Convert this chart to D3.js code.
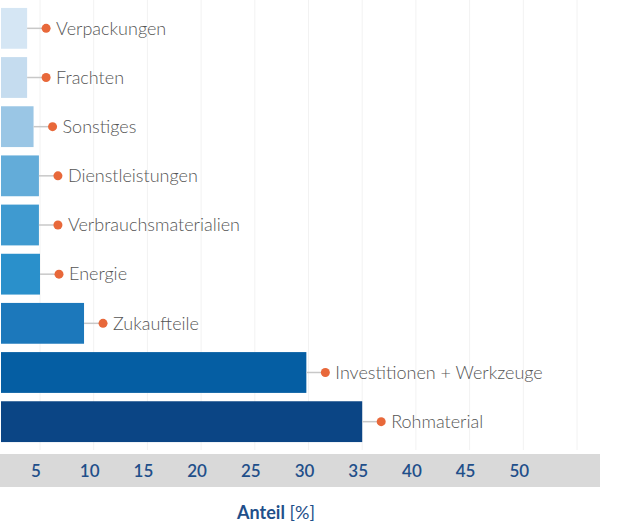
<!DOCTYPE html>
<html>
<head>
<meta charset="utf-8">
<script src="https://cdn.jsdelivr.net/npm/d3@7"></script>
<style>
  body { margin: 0; background: #fff; }
  svg { display: block; font-family: "Lato", "Open Sans", sans-serif; }
</style>
</head>
<body>
<svg width="641" height="524"></svg>
<script>
// categories, top to bottom
const categories = ['Verpackungen', 'Frachten', 'Sonstiges', 'Dienstleistungen',
    'Verbrauchsmaterialien', 'Energie', 'Zukaufteile', 'Investitionen + Werkzeuge', 'Rohmaterial'];
// share in percent
const values = [3.8, 3.8, 4.4, 4.9, 4.9, 5.0, 9.1, 29.8, 35.0];
const colors = ['#d5e6f4', '#c5dcef', '#9ac6e5', '#63acd9', '#3f9ad0', '#2a90cb', '#1c78bb', '#055ea3', '#0b4585'];
const ticks = [5, 10, 15, 20, 25, 30, 35, 40, 45, 50];
const gridValues = [5, 10, 15, 20, 25, 30, 35, 40, 45, 50, 55];

const svg = d3.select('svg');

const x = d3.scaleLinear().domain([0, 55]).range([-13.7, 577]);
const y = d3.scaleBand().domain(categories).range([4, 446]).paddingInner(0.17).paddingOuter(0.08);

// grid lines
svg.append('g')
    .selectAll('line')
    .data(gridValues)
    .enter()
    .append('line')
    .attr('x1', d => x(d)).attr('x2', d => x(d))
    .attr('y1', 0).attr('y2', 450)
    .style('stroke', '#f2f2f2')
    .style('stroke-width', 1);

// axis band
svg.append('rect')
    .attr('x', 0).attr('y', 454)
    .attr('width', 600).attr('height', 33)
    .style('fill', '#d9d9d9');

// bars
svg.append('g')
    .selectAll('rect')
    .data(categories)
    .enter()
    .append('rect')
    .attr('x', 1)
    .attr('y', d => y(d))
    .attr('width', (d, i) => x(values[i]) - 1)
    .attr('height', y.bandwidth())
    .style('fill', (d, i) => colors[i]);

// leader lines, dots and labels
const labels = svg.append('g')
    .selectAll('g')
    .data(categories)
    .enter()
    .append('g')
    .attr('transform', d => 'translate(0,' + (y(d) + y.bandwidth() / 2) + ')');

labels.append('line')
    .attr('x1', (d, i) => x(values[i]))
    .attr('x2', (d, i) => x(values[i]) + 19)
    .style('stroke', '#c8c8c8')
    .style('stroke-width', 1.5);

labels.append('circle')
    .attr('cx', (d, i) => x(values[i]) + 19)
    .attr('r', 4.5)
    .style('fill', '#e8683a');

labels.append('text')
    .attr('x', (d, i) => x(values[i]) + 29)
    .attr('dy', '0.35em')
    .style('font-size', '18px')
    .style('font-weight', 300)
    .style('fill', '#555')
    .text(d => d);

// tick labels
svg.append('g')
    .selectAll('text')
    .data(ticks)
    .enter()
    .append('text')
    .attr('x', d => x(d) - 4)
    .attr('y', 477)
    .attr('text-anchor', 'middle')
    .style('font-size', '17px')
    .style('font-weight', 600)
    .style('fill', '#1f4f8a')
    .text(d => d);

// axis title
const title = svg.append('text')
    .attr('x', 276)
    .attr('y', 519)
    .attr('text-anchor', 'middle')
    .style('font-size', '18px')
    .style('fill', '#1f4f8a');
title.append('tspan').style('font-weight', 'bold').text('Anteil');
title.append('tspan').text(' [%]');
</script>
</body>
</html>
